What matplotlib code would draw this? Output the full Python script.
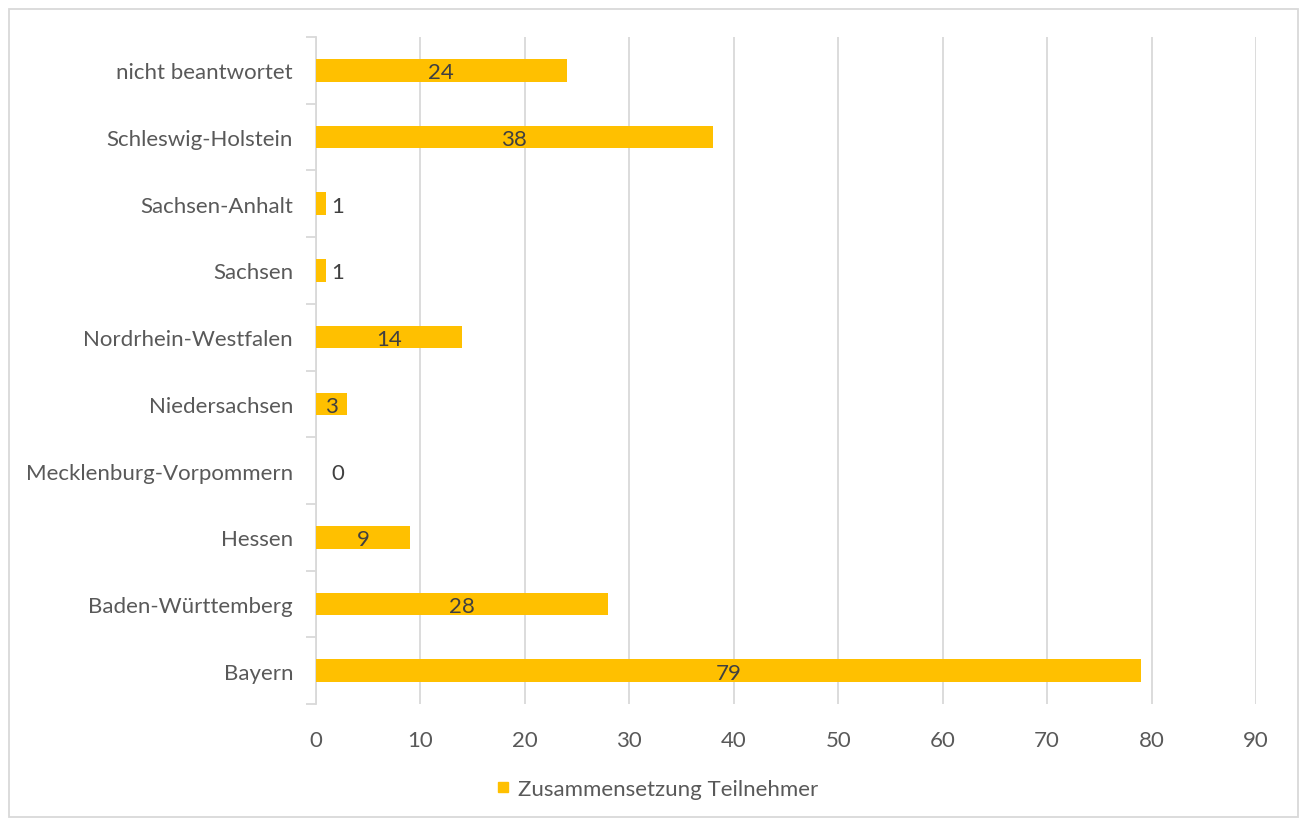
import matplotlib
matplotlib.use("Agg")
import matplotlib.pyplot as plt
from matplotlib.patches import Rectangle
from matplotlib.lines import Line2D

categories = ["Bayern", "Baden-Württemberg", "Hessen", "Mecklenburg-Vorpommern",
              "Niedersachsen", "Nordrhein-Westfalen", "Sachsen", "Sachsen-Anhalt",
              "Schleswig-Holstein", "nicht beantwortet"]
values = [79, 28, 9, 0, 3, 14, 1, 1, 38, 24]
series_name = "Zusammensetzung Teilnehmer"
xticks = [0, 10, 20, 30, 40, 50, 60, 70, 80, 90]

BAR = "#FFC000"
TXT = "#595959"
LBL = "#404040"
GRID = "#D9D9D9"
FS = 16

plt.rcParams['font.family'] = ['Lato', 'DejaVu Sans']

fig = plt.figure(figsize=(13.02, 8.2), dpi=100)
ax = fig.add_axes([316/1302, 1-705/820, (1256-316)/1302, (705-38)/820])

y = list(range(len(categories)))
bars = ax.barh(y, values, height=0.34, color=BAR, zorder=3)

ax.set_xlim(0, 90)
ax.set_ylim(-0.5, len(categories)-0.5)
ax.set_xticks(xticks)
ax.set_xticklabels([str(t) for t in xticks])
ax.grid(axis='x', color=GRID, linewidth=1.3, zorder=0)
ax.tick_params(axis='x', length=0, labelsize=FS, colors=TXT, pad=18.5)

ax.set_yticks(y)
ax.set_yticklabels(categories)
ax.tick_params(axis='y', which='major', length=0, labelsize=FS, colors=TXT, pad=16.5)
ax.set_yticks([i - 0.5 for i in range(len(categories)+1)], minor=True)
ax.tick_params(axis='y', which='minor', length=7, width=1.3, color=GRID, direction='out')

for s in ['top', 'right', 'bottom']:
    ax.spines[s].set_visible(False)
ax.spines['left'].set_color(GRID)
ax.spines['left'].set_linewidth(1.3)

for yi, v in zip(y, values):
    if v >= 3:
        ax.text(v/2, yi, str(v), ha='center', va='center_baseline', fontsize=FS, color=LBL, zorder=4)
    else:
        ax.annotate(str(v), xy=(0, yi), xytext=(22, 0), textcoords='offset pixels',
                    ha='center', va='center_baseline', fontsize=FS, color=LBL, zorder=4)

handle = Line2D([], [], marker='s', linestyle='none', color=BAR, markersize=7)
fig.legend([handle], [series_name], loc='center', bbox_to_anchor=(655/1302, 1-790/820),
           frameon=False, fontsize=FS, labelcolor=TXT, handletextpad=0.2, handlelength=1.0)

fig.patches.append(Rectangle((9/1302, 2/820), 1289/1302, 808/820, transform=fig.transFigure,
                             fill=False, edgecolor=GRID, linewidth=1.3))

fig.savefig("out.png", dpi=100, facecolor="white")
